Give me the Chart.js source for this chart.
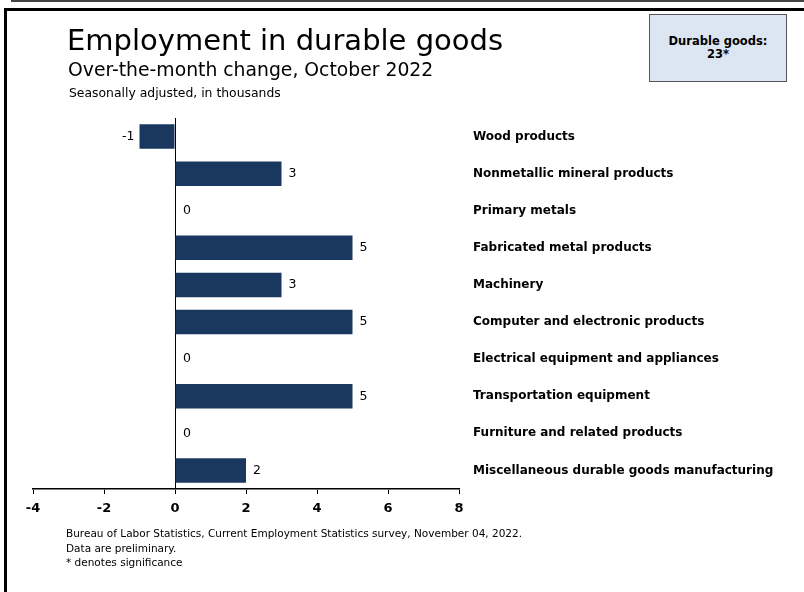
<!DOCTYPE html>
<html>
<head>
<meta charset="utf-8">
<script src="https://cdn.jsdelivr.net/npm/chart.js@4.4.0/dist/chart.umd.min.js"></script>
<style>
  html, body { margin: 0; padding: 0; background: #fff; }
  #wrap { position: relative; width: 804px; height: 592px; overflow: hidden; font-family: "DejaVu Sans", Verdana, sans-serif; }
  #chart { position: absolute; left: 0; top: 0; }
  .txt { position: absolute; white-space: nowrap; color: #000; }
  #topline { position: absolute; left: 11px; top: 0; width: 800px; height: 2px; background: #444; }
  #frameTop { position: absolute; left: 4px; top: 8px; width: 810px; height: 3px; background: #000; }
  #frameLeft { position: absolute; left: 4px; top: 8px; width: 3px; height: 600px; background: #000; }
  #box { position: absolute; left: 649px; top: 14px; width: 136px; height: 66px; background: #dce6f2;
         border: 1px solid #555; font-weight: bold; font-size: 11.5px; text-align: center;
         display: flex; align-items: center; justify-content: center; line-height: 13px; }
</style>
</head>
<body>
<div id="wrap">
  <div id="topline"></div>
  <div id="frameTop"></div>
  <div id="frameLeft"></div>
  <canvas id="chart" width="804" height="592"></canvas>
  <div class="txt" style="left:67px; top:23px; font-size:29px;">Employment in durable goods</div>
  <div class="txt" style="left:68px; top:59px; font-size:18.8px;">Over-the-month change, October 2022</div>
  <div class="txt" style="left:69px; top:85px; font-size:12.4px;">Seasonally adjusted, in thousands</div>
  <div id="box"><div>Durable goods:<br>23*</div></div>
  <div class="txt" style="left:66px; top:526px; font-size:10.5px; line-height:14.5px;">
    Bureau of Labor Statistics, Current Employment Statistics survey, November 04, 2022.<br>
    Data are preliminary.<br>
    * denotes significance
  </div>
</div>
<script>
const categories = [
  "Wood products",
  "Nonmetallic mineral products",
  "Primary metals",
  "Fabricated metal products",
  "Machinery",
  "Computer and electronic products",
  "Electrical equipment and appliances",
  "Transportation equipment",
  "Furniture and related products",
  "Miscellaneous durable goods manufacturing"
];
const changes = [-1, 3, 0, 5, 3, 5, 0, 5, 0, 2];
const xTicks = [-4, -2, 0, 2, 4, 6, 8];

// value labels next to each bar end
const valueLabels = {
  id: "valueLabels",
  afterDatasetsDraw(chart) {
    const ctx = chart.ctx;
    const meta = chart.getDatasetMeta(0);
    ctx.save();
    ctx.font = "12.5px 'DejaVu Sans'";
    ctx.fillStyle = "#000";
    ctx.textBaseline = "middle";
    meta.data.forEach((bar, i) => {
      const v = changes[i];
      if (v < 0) {
        ctx.textAlign = "right";
        ctx.fillText(String(v), bar.x - 5, bar.y);
      } else {
        ctx.textAlign = "left";
        ctx.fillText(String(v), bar.x + (v === 0 ? 8 : 7), bar.y);
      }
    });
    ctx.restore();
  }
};

new Chart(document.getElementById("chart").getContext("2d"), {
  type: "bar",
  data: {
    labels: categories,
    datasets: [{
      data: changes,
      backgroundColor: "#1a375f",
      borderWidth: 0,
      barPercentage: 0.66,
      categoryPercentage: 1.0
    }]
  },
  options: {
    indexAxis: "y",
    responsive: false,
    animation: false,
    layout: { padding: { left: 33, top: 118, right: 0, bottom: 73 } },
    plugins: {
      legend: { display: false },
      tooltip: { enabled: false }
    },
    scales: {
      x: {
        min: -4,
        max: 8,
        afterBuildTicks: (scale) => { scale.ticks = xTicks.map(v => ({ value: v })); },
        afterFit: (scale) => { scale.height = 30; },
        grid: {
          drawOnChartArea: true,
          color: (c) => (c.tick && c.tick.value === 0 ? "#000" : "rgba(0,0,0,0)"),
          tickColor: "#000",
          tickLength: 5,
          lineWidth: 1
        },
        border: { display: true, color: "#000", width: 1.5 },
        ticks: {
          color: "#000",
          font: { family: "DejaVu Sans", size: 13, weight: "bold" },
          padding: 7
        }
      },
      y: {
        position: "right",
        afterFit: (scale) => { scale.width = 345; },
        grid: { display: false, drawTicks: false },
        border: { display: false },
        ticks: {
          color: "#000",
          padding: 14,
          font: { family: "DejaVu Sans", size: 12, weight: "bold" }
        }
      }
    }
  },
  plugins: [valueLabels]
});
</script>
</body>
</html>
